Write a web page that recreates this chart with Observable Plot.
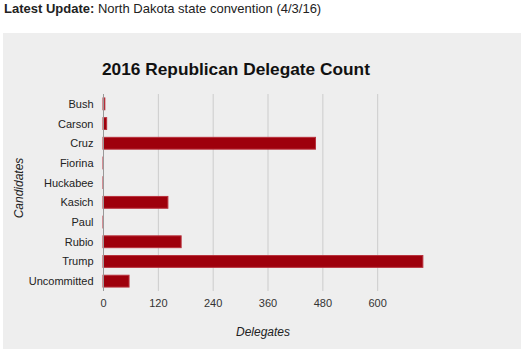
<!DOCTYPE html>
<html>
<head>
<meta charset="utf-8">
<script src="https://cdn.jsdelivr.net/npm/d3@7"></script>
<script src="https://cdn.jsdelivr.net/npm/@observablehq/plot@0.6"></script>
<style>
  html, body { margin: 0; padding: 0; background: #fff; width: 525px; height: 352px; overflow: hidden; }
  body { font-family: "Liberation Sans", Arial, sans-serif; position: relative; }
  #header { position: absolute; left: 4px; top: 1px; font-size: 13px; color: #222; line-height: 16px; }
  #panel { position: absolute; left: 3px; top: 33px; width: 518px; height: 316px; background: #eeeeee; }
  #title { position: absolute; left: 99px; top: 26px; font-size: 17.3px; font-weight: bold; color: #111; line-height: 20px; white-space: nowrap; }
  #chart { position: absolute; left: 0; top: 52px; }
</style>
</head>
<body>
<div id="header"><b>Latest Update:</b> North Dakota state convention (4/3/16)</div>
<div id="panel">
  <div id="title">2016 Republican Delegate Count</div>
  <div id="chart"></div>
</div>
<script>
const candidates = ["Bush", "Carson", "Cruz", "Fiorina", "Huckabee", "Kasich", "Paul", "Rubio", "Trump", "Uncommitted"];
const delegates = [4, 8, 465, 1, 1, 142, 1, 171, 700, 57];
const xTicks = [0, 120, 240, 360, 480, 600];
const xLabel = "Delegates";
const yLabel = "Candidates";

const data = candidates.map((c, i) => ({candidate: c, delegates: delegates[i]}));

const chart = Plot.plot({
  width: 518,
  height: 260,
  marginTop: 9,
  marginBottom: 54,
  marginLeft: 100,
  marginRight: 89,
  style: {fontFamily: "Liberation Sans, Arial, sans-serif", fontSize: "11px", background: "transparent", color: "#333"},
  x: {domain: [0, 720], ticks: xTicks, label: null},
  y: {domain: candidates, paddingInner: 0.4, paddingOuter: 0.2, round: false, label: null},
  marks: [
    Plot.gridX(xTicks.slice(1), {stroke: "#cccccc", strokeOpacity: 1}),
    Plot.barX(data, {x: "delegates", y: "candidate", fill: "#9e000c", stroke: "#b8303c", strokeWidth: 1}),
    Plot.ruleX([0], {stroke: "#999999"}),
    Plot.axisX({ticks: xTicks, tickSize: 0, tickPadding: 8, label: null, fill: "#333"}),
    Plot.axisY({tickSize: 0, tickPadding: 10, label: null, fill: "#222", fontSize: 11}),
    Plot.text([xLabel], {text: d => d, frameAnchor: "bottom", dy: 44, dx: -5, fontStyle: "italic", fontSize: 12, fill: "#222"}),
    Plot.text([yLabel], {text: d => d, frameAnchor: "left", textAnchor: "middle", rotate: -90, dx: -84, dy: -5, fontStyle: "italic", fontSize: 12, fill: "#222"})
  ]
});
document.getElementById("chart").appendChild(chart);
</script>
</body>
</html>
